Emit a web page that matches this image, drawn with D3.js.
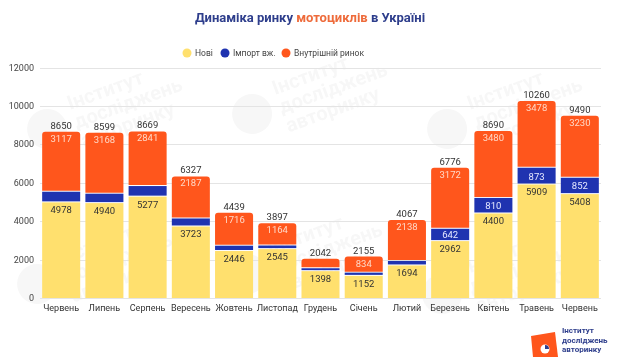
<!DOCTYPE html>
<html>
<head>
<meta charset="utf-8">
<script src="https://cdn.jsdelivr.net/npm/d3@7"></script>
<style>
  body { margin: 0; background: #fff; }
  svg { display: block; font-family: Roboto, "Noto Sans", sans-serif; }
</style>
</head>
<body>
<svg id="chart"></svg>
<script>
// data
var months = ['Червень', 'Липень', 'Серпень', 'Вересень', 'Жовтень', 'Листопад', 'Грудень',
              'Січень', 'Лютий', 'Березень', 'Квітень', 'Травень', 'Червень'];
var newV     = [4978, 4940, 5277, 3723, 2446, 2545, 1398, 1152, 1694, 2962, 4400, 5909, 5408];
var importV  = [555, 491, 551, 417, 277, 188, 150, 169, 235, 642, 810, 873, 852];
var domestic = [3117, 3168, 2841, 2187, 1716, 1164, 494, 834, 2138, 3172, 3480, 3478, 3230];
var totals   = [8650, 8599, 8669, 6327, 4439, 3897, 2042, 2155, 4067, 6776, 8690, 10260, 9490];
var yTicks   = [0, 2000, 4000, 6000, 8000, 10000, 12000];

var seriesNames = ['Нові', 'Імпорт вж.', 'Внутрішній ринок'];
var colors = ['#FFE06E', '#1F33B0', '#FF561C'];

var width = 620, height = 361;
var svg = d3.select('#chart').attr('width', width).attr('height', height);

// faint watermark
var wm = svg.append('g').attr('fill', '#000').attr('opacity', 0.035)
  .attr('font-weight', 700).attr('font-size', 20);
[[70, 110], [275, 95], [470, 110], [60, 265], [270, 255], [465, 275]].forEach(function(p) {
  var g = wm.append('g').attr('transform', 'translate(' + p[0] + ',' + p[1] + ') rotate(-20)');
  g.append('circle').attr('cx', -28).attr('cy', 10).attr('r', 20);
  ['Інститут', 'досліджень', 'авторинку'].forEach(function(t, i) {
    g.append('text').attr('x', 0).attr('y', i * 20).text(t);
  });
});

var x = d3.scaleBand()
  .domain(d3.range(months.length))
  .range([40, 601])
  .paddingInner(0.12)
  .paddingOuter(0.05);

var y = d3.scaleLinear().domain([0, 12000]).range([298, 67.5]);

// grid + y labels
svg.append('g').selectAll('line').data(yTicks).enter().append('line')
  .attr('x1', 40).attr('x2', 601)
  .attr('y1', function(d) { return Math.round(y(d)) + 0.5; })
  .attr('y2', function(d) { return Math.round(y(d)) + 0.5; })
  .attr('stroke', '#e4e4e4');

svg.append('g').selectAll('text').data(yTicks).enter().append('text')
  .attr('x', 34).attr('y', function(d) { return y(d) + 3; })
  .attr('text-anchor', 'end').attr('font-size', 9).attr('fill', '#444')
  .text(function(d) { return d; });

// bars
var bars = svg.append('g').selectAll('g.bar').data(months).enter().append('g').attr('class', 'bar');

bars.each(function(m, i) {
  var g = d3.select(this);
  var bx = x(i), bw = x.bandwidth();
  var segs = [
    [0, newV[i]],
    [newV[i], newV[i] + importV[i]],
    [newV[i] + importV[i], totals[i]]
  ];
  segs.forEach(function(s, k) {
    var top = y(s[1]), bot = y(s[0]);
    if (k > 0) bot -= 1;
    if (k === 2) {
      var r = 3;
      g.append('path')
        .attr('d', 'M' + bx + ',' + bot + 'V' + (top + r) + 'Q' + bx + ',' + top + ' ' + (bx + r) + ',' + top +
                   'H' + (bx + bw - r) + 'Q' + (bx + bw) + ',' + top + ' ' + (bx + bw) + ',' + (top + r) +
                   'V' + bot + 'Z')
        .attr('fill', colors[k]);
    } else {
      g.append('rect').attr('x', bx).attr('y', top).attr('width', bw)
        .attr('height', Math.max(0, bot - top)).attr('fill', colors[k]);
    }
  });

  var cx = bx + bw / 2;
  g.append('text').attr('x', cx).attr('y', y(totals[i]) - 3)
    .attr('text-anchor', 'middle').attr('font-size', 9.5).attr('fill', '#333')
    .text(totals[i]);
  if (domestic[i] >= 600) {
    g.append('text').attr('x', cx).attr('y', y(totals[i]) + 10)
      .attr('text-anchor', 'middle').attr('font-size', 9.5).attr('fill', '#FFD9C8')
      .text(domestic[i]);
  }
  if (importV[i] >= 600) {
    g.append('text').attr('x', cx).attr('y', (y(newV[i]) + y(newV[i] + importV[i])) / 2 + 3.5)
      .attr('text-anchor', 'middle').attr('font-size', 9.5).attr('fill', '#E6E9FF')
      .text(importV[i]);
  }
  g.append('text').attr('x', cx).attr('y', y(newV[i]) + 11)
    .attr('text-anchor', 'middle').attr('font-size', 9.5).attr('fill', '#333')
    .text(newV[i]);
});

// x axis labels
svg.append('g').selectAll('text').data(months).enter().append('text')
  .attr('x', function(d, i) { return x(i) + x.bandwidth() / 2; })
  .attr('y', 311)
  .attr('text-anchor', 'middle').attr('font-size', 9).attr('fill', '#333')
  .text(function(d) { return d; });

// title
var title = svg.append('text').attr('x', 310).attr('y', 22)
  .attr('text-anchor', 'middle').attr('font-size', 13).attr('font-weight', 700).attr('fill', '#2E3E8C');
title.append('tspan').text('Динаміка ринку ');
title.append('tspan').attr('fill', '#EE6B3B').text('мотоциклів');
title.append('tspan').text(' в Україні');

// legend
var legX = [187, 225, 286];
var leg = svg.append('g').selectAll('g').data(seriesNames).enter().append('g')
  .attr('transform', function(d, i) { return 'translate(' + legX[i] + ',53)'; });
leg.append('circle').attr('r', 4.5).attr('fill', function(d, i) { return colors[i]; });
leg.append('text').attr('x', 8).attr('y', 3).attr('font-size', 8.5).attr('fill', '#444')
  .text(function(d) { return d; });

// logo
var logo = svg.append('g');
logo.append('path')
  .attr('d', 'M531,336 L555,332 L558,357 L533,357 Z')
  .attr('fill', '#FF561C');
logo.append('circle').attr('cx', 545).attr('cy', 349).attr('r', 4.5).attr('fill', '#fff');
logo.append('path').attr('d', 'M545,349 V345 A4,4 0 0 1 549,349 Z').attr('fill', '#2E3E8C');
['Інститут', 'досліджень', 'авторинку'].forEach(function(t, i) {
  logo.append('text').attr('x', 562).attr('y', 333 + i * 9.5)
    .attr('font-size', 8).attr('font-weight', 700).attr('fill', '#2E3E8C').text(t);
});
</script>
</body>
</html>
